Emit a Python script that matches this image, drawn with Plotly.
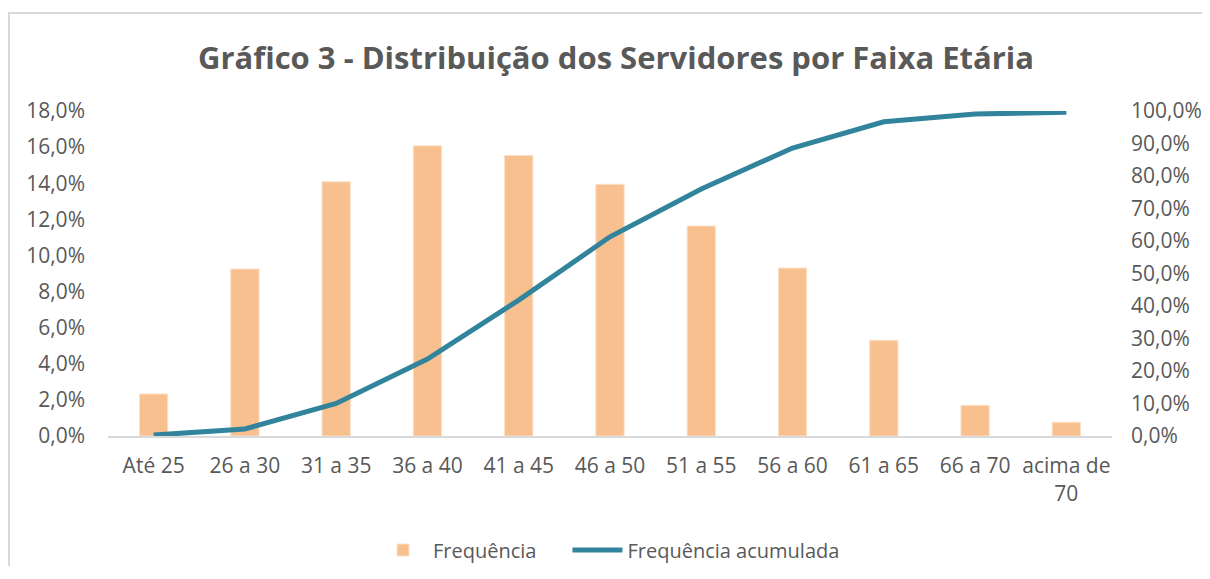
import plotly.graph_objects as go

categories = ["Até 25", "26 a 30", "31 a 35", "36 a 40", "41 a 45", "46 a 50",
              "51 a 55", "56 a 60", "61 a 65", "66 a 70", "acima de<br>70"]
frequencia = [0.0233, 0.0925, 0.1408, 0.1607, 0.1554, 0.1394,
              0.1163, 0.0930, 0.0530, 0.0170, 0.0076]
frequencia_acumulada = [0.003, 0.0215, 0.100, 0.237, 0.418, 0.613,
                        0.760, 0.886, 0.967, 0.991, 0.996]

# page body has an 8px margin; figure coordinates = screen - 8
W, H = 1202, 558
L, T = 100, 103
pw, ph = 1004, 325
R = W - L - pw
B = H - T - ph

fig = go.Figure()
fig.add_trace(go.Bar(
    x=categories, y=frequencia, name="Frequência\u00a0\u00a0\u00a0\u00a0\u00a0",
    marker=dict(color="#F9C08F", line=dict(color="#FCE0C8", width=1)),
    width=0.31, yaxis="y",
))
fig.add_trace(go.Scatter(
    x=categories, y=frequencia_acumulada, name="Frequência acumulada",
    mode="lines", line=dict(color="#31849B", width=5), yaxis="y2",
))

font_family = "Open Sans, Lato, sans-serif"
tick_font = dict(family=font_family, size=21, color="#595959")

fig.update_layout(
    width=W, height=H,
    margin=dict(l=L, r=R, t=T, b=B, autoexpand=False),
    paper_bgcolor="white", plot_bgcolor="white",
    separators=",.",
    title=dict(text="<b>Gráfico 3 - Distribuição dos Servidores por Faixa Etária</b>",
               xref="container", x=608 / W, xanchor="center",
               yref="container", y=1 - 50 / H, yanchor="middle",
               font=dict(family=font_family, size=31, color="#595959")),
    xaxis=dict(showgrid=False, showline=True, linecolor="#D9D9D9", linewidth=2,
               ticks="", tickfont=tick_font, fixedrange=True, automargin=False,
               ticklabelstandoff=10),
    yaxis=dict(range=[0, 0.18], dtick=0.02, tickformat=".1%", showgrid=False,
               showline=False, zeroline=False, ticks="", tickfont=tick_font,
               ticklabelstandoff=22, automargin=False),
    yaxis2=dict(range=[0, 1.0], dtick=0.1, tickformat=".1%", overlaying="y",
                side="right", showgrid=False, showline=False, zeroline=False,
                ticks="", tickfont=tick_font, ticklabelstandoff=18,
                automargin=False),
    legend=dict(orientation="h", x=(365 - L) / pw, xanchor="left",
                y=-(542 - (T + ph)) / ph, yanchor="middle",
                font=dict(family=font_family, size=20, color="#595959"),
                itemwidth=50),
    showlegend=True,
)

# chart border (light gray frame)
fig.add_shape(type="rect", xref="paper", yref="paper",
              x0=(1 - L) / pw, x1=(W + 40 - L) / pw,
              y0=-(H + 40 - (T + ph)) / ph, y1=(T + ph - 5) / ph,
              line=dict(color="#D9D9D9", width=2), layer="below")

fig.write_html(
    "out.html",
    post_script="document.documentElement.style.overflow='hidden';"
                "document.body.style.overflow='hidden';",
)
